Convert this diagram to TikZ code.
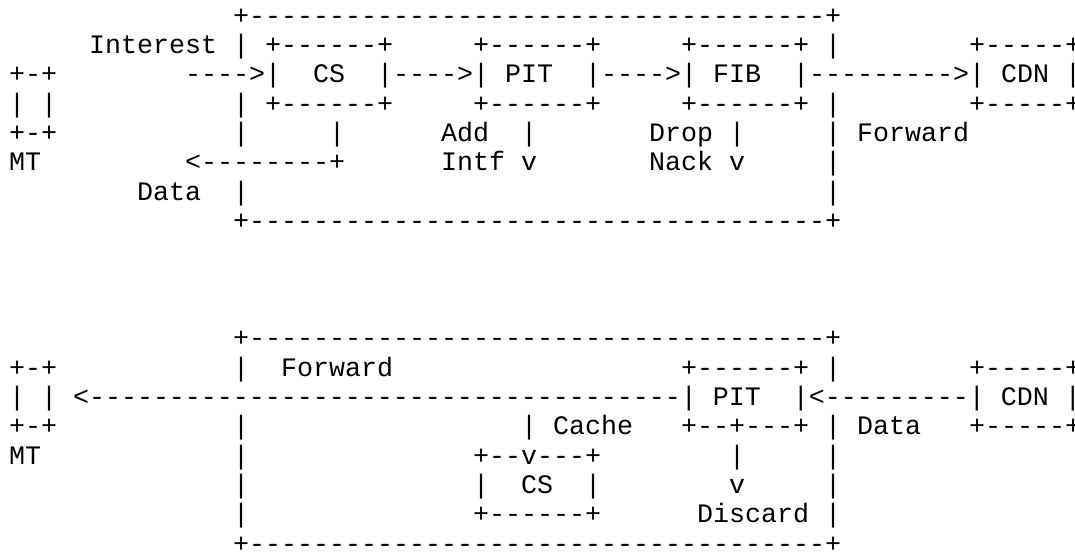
\documentclass[tikz,border=0pt]{standalone}
\usepackage{fontspec}
\setmonofont{Liberation Mono}
\newcommand\B[1]{\hskip#1\fontcharwd\font`M\relax}
\newcommand\Dd[1]{\foreach\ii in {1,...,#1}{-}}
\begin{document}
\begin{tikzpicture}[x=0.75pt,y=-0.75pt,
  row/.style={anchor=base west,inner sep=0pt,outer sep=0pt,
    font=\ttfamily\fontsize{20pt}{20pt}\selectfont}]
\useasboundingbox (0,0) rectangle (1075,551);
% upper figure: Interest path
\node[row] (r0)  at (9,24.00)  {\B{14}+\Dd{36}+};
\node[row] (r1)  at (9,53.35)  {\B{5}Interest | +------+\B{5}+------+\B{5}+------+ |\B{8}+-----+};
\node[row] (r2)  at (9,82.70)  {+-+\B{8}---->|\B{2}CS\B{2}|---->| PIT\B{2}|---->| FIB\B{2}|\Dd{9}>| CDN |};
\node[row] (r3)  at (9,112.05) {| |\B{11}| +------+\B{5}+------+\B{5}+------+ |\B{8}+-----+};
\node[row] (r4)  at (9,141.40) {+-+\B{11}|\B{5}|\B{6}Add\B{2}|\B{7}Drop |\B{5}| Forward};
\node[row] (r5)  at (9,170.75) {MT\B{9}<\Dd{8}+\B{6}Intf v\B{7}Nack v\B{5}|};
\node[row] (r6)  at (9,200.10) {\B{8}Data\B{2}|\B{36}|};
\node[row] (r7)  at (9,229.45) {\B{14}+\Dd{36}+};
% lower figure: Data path
\node[row] (r11) at (9,346.85) {\B{14}+\Dd{36}+};
\node[row] (r12) at (9,376.20) {+-+\B{11}|\B{2}Forward\B{18}+------+ |\B{8}+-----+};
\node[row] (r13) at (9,405.55) {| | <\Dd{37}| PIT\B{2}|<\Dd{9}| CDN |};
\node[row] (r14) at (9,434.90) {+-+\B{11}|\B{17}| Cache\B{3}+--+---+ | Data\B{3}+-----+};
\node[row] (r15) at (9,464.25) {MT\B{12}|\B{14}+--v---+\B{8}|\B{5}|};
\node[row] (r16) at (9,493.60) {\B{14}|\B{14}|\B{2}CS\B{2}|\B{8}v\B{5}|};
\node[row] (r17) at (9,522.95) {\B{14}|\B{14}+------+\B{6}Discard |};
\node[row] (r18) at (9,552.30) {\B{14}+\Dd{36}+};
\end{tikzpicture}
\end{document}
